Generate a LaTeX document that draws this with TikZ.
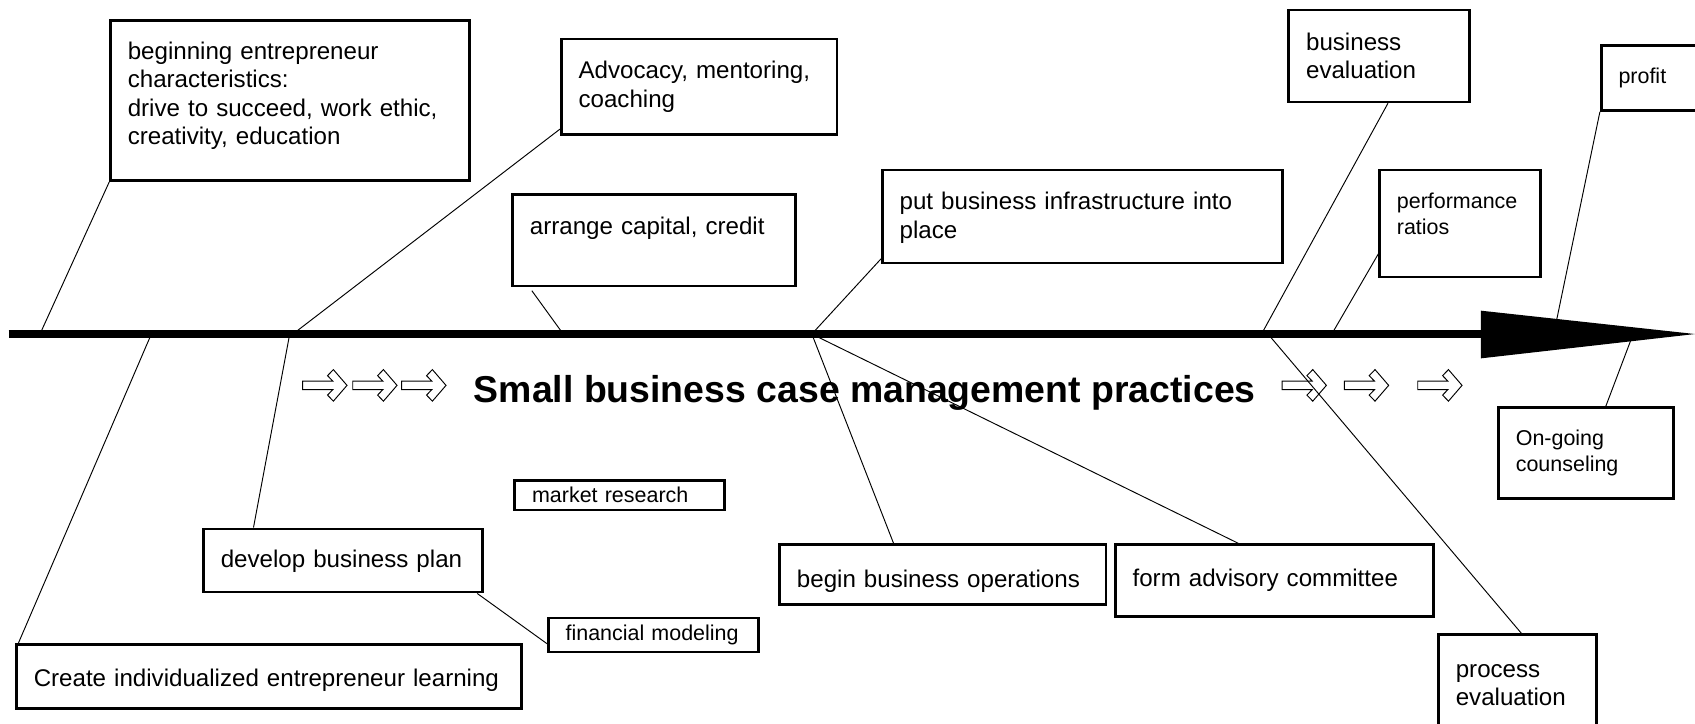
\documentclass[tikz,border=0pt]{standalone}
\usepackage{fontspec}
\setmainfont{Liberation Sans}
\usetikzlibrary{calc}
\newcommand\bigtxt{\fontsize{12.7pt}{15pt}\selectfont}
\newcommand\smalltxt{\fontsize{11.3pt}{13.65pt}\selectfont}
\newcommand\titletxt{\fontsize{19.7pt}{23pt}\selectfont\bfseries}
\tikzset{
  box/.style={draw, line width=1.4pt, anchor=north west, align=left, inner xsep=0.32cm, inner ysep=0pt, font=\bigtxt},
  smallbox/.style={box, font=\smalltxt},
  bone/.style={line width=0.5pt},
  spine/.style={line width=4pt},
  flowarrow/.pic={
    \draw[line width=0.5pt] (0,-3.9) -- (27.9,-3.9) -- (23,-9) -- (28.4,-14.6) -- (41,0) -- (28.4,14.6) -- (23,9) -- (27.9,3.9) -- (0,3.9) -- cycle;
  }
}
\begin{document}
\begin{tikzpicture}[x=0.02cm, y=-0.02cm]
    \useasboundingbox (0,0) rectangle (1568,669);
    \clip (0,0) rectangle (1568,669);

    \node[box, text width=6.00cm, minimum height=2.96cm] (traits) at (101,18) {beginning entrepreneur\\characteristics:\\drive to succeed, work ethic,\\creativity, education\rule[-0.27cm]{0pt}{0pt}};
    \node[box, text width=4.46cm, minimum height=1.76cm] (advocacy) at (518,35) {Advocacy, mentoring,\\coaching};
    \node[box, text width=4.60cm, minimum height=1.69cm] (capital) at (473,179) {arrange capital, credit\rule[-0.53cm]{0pt}{0pt}};
    \node[box, text width=6.76cm, minimum height=1.72cm] (infra) at (815,156) {\rule{0pt}{0.37cm}put business infrastructure into\\place};
    \node[box, text width=2.70cm, minimum height=1.70cm] (buseval) at (1191,8) {business\\evaluation};
    \node[smallbox, text width=1.96cm, minimum height=1.20cm] (profit) at (1480,41) {profit};
    \node[smallbox, text width=2.34cm, minimum height=1.98cm] (ratios) at (1275,156) {performance\\ratios\rule[-0.35cm]{0pt}{0pt}};
    \node[smallbox, text width=2.60cm, minimum height=1.68cm] (counsel) at (1385,376) {On-going\\counseling};
    \node[smallbox, text width=3.24cm, minimum height=0.55cm] (market) at (475,443) {market research};
    \node[box, text width=4.52cm, minimum height=1.17cm] (plan) at (187,488) {\rule{0pt}{0.37cm}develop business plan};
    \node[smallbox, text width=3.25cm, minimum height=0.63cm] (finmodel) at (506,570.5) {financial modeling};
    \node[box, text width=8.70cm, minimum height=1.18cm] (learning) at (14,595) {\rule{0pt}{0.45cm}Create individualized entrepreneur learning};
    \node[box, text width=5.40cm, minimum height=1.11cm] (operations) at (720,502.6) {\rule{0pt}{0.57cm}begin business operations};
    \node[box, text width=5.25cm, minimum height=1.33cm] (committee) at (1030.5,502.6) {form advisory committee};
    \node[box, text width=2.28cm, minimum height=1.74cm] (proceval) at (1329.5,586) {\rule{0pt}{0.37cm}process\\evaluation};

    \node[font=\titletxt] (title) at (800,363.5) {Small business case management practices};

    \pic at (280,356.5) {flowarrow};
    \pic at (326.3,356.5) {flowarrow};
    \pic at (371.6,356.5) {flowarrow};
    \pic at (1186,356.5) {flowarrow};
    \pic at (1243.6,356.5) {flowarrow};
    \pic at (1311.5,356.5) {flowarrow};

    \coordinate (tail) at (8,309);
    \coordinate (headbase) at (1372,309);
    \coordinate (s1) at (37,309);
    \coordinate (s2) at (271,309);
    \coordinate (s3) at (521,309);
    \coordinate (s4) at (751,309);
    \coordinate (s5) at (1167,309);
    \coordinate (s6) at (1232,309);
    \coordinate (s7) at (1440,296);
    \coordinate (s8) at (140,309);
    \coordinate (s9) at (268,309);
    \coordinate (s10) at (1173,309);
    \coordinate (s11) at (1510,311);

    \draw[bone] (traits.south west) -- (s1);
    \draw[bone] ($(advocacy.south west)+(0,-6)$) -- (s2);
    \draw[bone] ($(capital.south west)+(19,3)$) -- (s3);
    \draw[bone] ($(infra.south west)+(0,-5)$) -- (s4);
    \draw[bone] ($(buseval.south west)+(93,0)$) -- (s5);
    \draw[bone] ($(ratios.south west)+(0,-22.5)$) -- (s6);
    \draw[bone] (profit.south west) -- (s7);
    \draw[bone] (s8) -- ($(learning.north west)+(3,0)$);
    \draw[bone] (s9) -- ($(plan.north west)+(47.5,0)$);
    \draw[bone] ($(plan.south east)+(-6,0)$) -- ($(finmodel.south west)+(0,-9)$);
    \draw[bone] (s4) -- ($(operations.north west)+(106.6,0)$);
    \draw[bone] (s4) -- ($(committee.north west)+(115,0)$);
    \draw[bone] (s10) -- ($(proceval.north west)+(78,0)$);
    \draw[bone] (s11) -- ($(counsel.north west)+(100.4,0)$);

    \draw[spine] (tail) -- (headbase);
    \fill (1370,287.4) -- (1568,309) -- (1370,331.5) -- cycle;
  \end{tikzpicture}
\end{document}
